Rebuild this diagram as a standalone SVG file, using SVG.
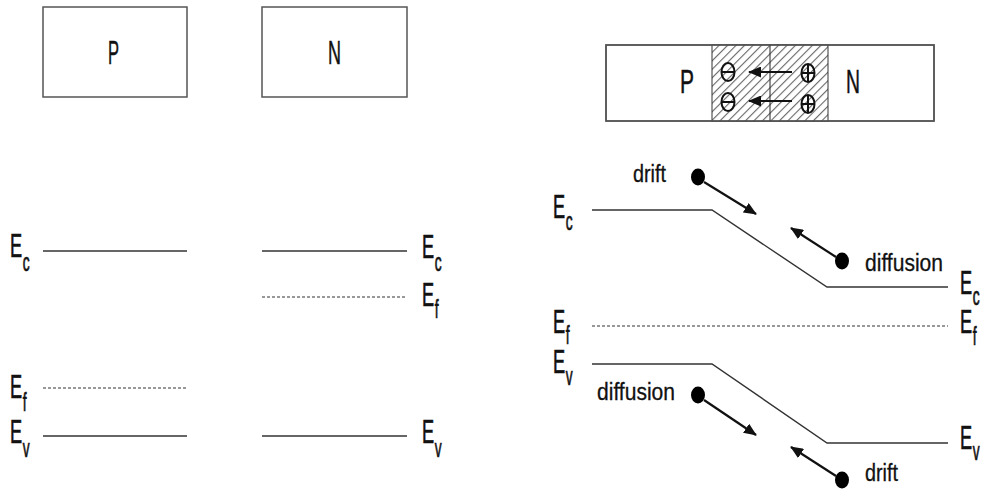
<svg xmlns="http://www.w3.org/2000/svg" width="988" height="494" viewBox="0 0 988 494">
<style>
.box{fill:#fff;stroke:#555;stroke-width:1.5}
.band{fill:none;stroke:#333;stroke-width:1.4}
.fermi{fill:none;stroke:#333;stroke-width:1;stroke-dasharray:3,2}
.lbl{font-family:"Liberation Sans",Arial,sans-serif;font-size:33px;fill:#111;stroke:#111;stroke-width:0.5}
.el{font-family:"Liberation Sans",Arial,sans-serif;font-size:33px;fill:#111;stroke:#111;stroke-width:0.7}
.el .s{font-size:25px}
.tag{font-family:"Liberation Sans",Arial,sans-serif;font-size:23px;fill:#111;stroke:#111;stroke-width:0.3}
.arr{stroke:#111;stroke-width:2.2;fill:none}
.dot{fill:#000}
.ion{fill:none;stroke:#111;stroke-width:2}
</style>
<defs>
<pattern id="hatch" width="6" height="6" patternUnits="userSpaceOnUse" patternTransform="rotate(45)">
<rect width="6" height="6" fill="#fff"/>
<line x1="0" y1="0" x2="0" y2="6" stroke="#666" stroke-width="2.2"/>
</pattern>
<marker id="ah" markerWidth="13" markerHeight="11" refX="12" refY="5.5" orient="auto" markerUnits="userSpaceOnUse">
<path d="M0,0 L13,5.5 L0,11 Z" fill="#111"/>
</marker>
</defs>
<rect width="988" height="494" fill="#fff"/>

<!-- Left: separated P and N -->
<g id="p-block">
<rect class="box" x="43" y="7" width="144" height="90"/>
<text class="lbl" x="108" y="64" textLength="11" lengthAdjust="spacingAndGlyphs">P</text>
</g>
<g id="n-block">
<rect class="box" x="262" y="7" width="145" height="90"/>
<text class="lbl" x="328" y="64" textLength="13" lengthAdjust="spacingAndGlyphs">N</text>
</g>

<g id="p-bands">
<line class="band" x1="43" y1="251" x2="187" y2="251"/>
<line class="fermi" x1="43" y1="388" x2="187" y2="388"/>
<line class="band" x1="43" y1="436" x2="187" y2="436"/>
<text class="el" transform="translate(10,257) scale(0.55,1)">E<tspan class="s" dx="1" dy="14">c</tspan></text>
<text class="el" transform="translate(10,398) scale(0.55,1)">E<tspan class="s" dx="1" dy="13">f</tspan></text>
<text class="el" transform="translate(10,443) scale(0.55,1)">E<tspan class="s" dx="1" dy="14">v</tspan></text>
</g>

<g id="n-bands">
<line class="band" x1="262" y1="251" x2="407" y2="251"/>
<line class="fermi" x1="262" y1="297" x2="407" y2="297"/>
<line class="band" x1="262" y1="436" x2="407" y2="436"/>
<text class="el" transform="translate(422,258) scale(0.55,1)">E<tspan class="s" dx="1" dy="13">c</tspan></text>
<text class="el" transform="translate(422,306) scale(0.55,1)">E<tspan class="s" dx="1" dy="12">f</tspan></text>
<text class="el" transform="translate(422,443) scale(0.55,1)">E<tspan class="s" dx="1" dy="14">v</tspan></text>
</g>

<!-- Right: PN junction -->
<g id="junction">
<rect class="box" x="606" y="45" width="328" height="76"/>
<rect x="712" y="45" width="116" height="76" fill="url(#hatch)" stroke="#333" stroke-width="1"/>
<line x1="770" y1="45" x2="770" y2="121" stroke="#222" stroke-width="1"/>
<rect x="606" y="45" width="328" height="76" fill="none" stroke="#555" stroke-width="1.5"/>
<text class="lbl" x="680" y="93" textLength="14" lengthAdjust="spacingAndGlyphs">P</text>
<text class="lbl" x="846" y="93" textLength="14" lengthAdjust="spacingAndGlyphs">N</text>
</g>

<g id="ions">
<ellipse cx="728" cy="72" rx="6.5" ry="9" fill="#fff" fill-opacity="0.5" class="ion"/>
<line class="ion" x1="722" y1="72" x2="734" y2="72"/>
<ellipse cx="728" cy="102" rx="6.5" ry="9" fill="#fff" fill-opacity="0.5" class="ion"/>
<line class="ion" x1="722" y1="102" x2="734" y2="102"/>
<ellipse cx="808" cy="73" rx="6.5" ry="9" fill="#fff" fill-opacity="0.5" class="ion"/>
<line class="ion" x1="802" y1="73" x2="814" y2="73"/>
<line class="ion" x1="808" y1="65" x2="808" y2="82"/>
<ellipse cx="808" cy="104" rx="6.5" ry="9" fill="#fff" fill-opacity="0.5" class="ion"/>
<line class="ion" x1="802" y1="104" x2="814" y2="104"/>
<line class="ion" x1="808" y1="96" x2="808" y2="113"/>
</g>

<g id="junction-bands">
<polyline class="band" points="592,210 712,210 827,287 948,287"/>
<line class="fermi" x1="592" y1="326" x2="948" y2="326"/>
<polyline class="band" points="592,364 712,364 827,443 948,443"/>
<text class="el" transform="translate(553,218) scale(0.55,1)">E<tspan class="s" dx="1" dy="12">c</tspan></text>
<text class="el" transform="translate(553,333) scale(0.55,1)">E<tspan class="s" dx="1" dy="11">f</tspan></text>
<text class="el" transform="translate(553,373) scale(0.55,1)">E<tspan class="s" dx="1" dy="12">v</tspan></text>
<text class="el" transform="translate(960,294) scale(0.55,1)">E<tspan class="s" dx="1" dy="11">c</tspan></text>
<text class="el" transform="translate(960,333) scale(0.55,1)">E<tspan class="s" dx="1" dy="12">f</tspan></text>
<text class="el" transform="translate(960,449) scale(0.55,1)">E<tspan class="s" dx="1" dy="11">v</tspan></text>
</g>

<g id="carriers">
<ellipse class="dot" cx="698" cy="177" rx="7" ry="8.5"/>
<ellipse class="dot" cx="842" cy="261" rx="7" ry="8.5"/>
<ellipse class="dot" cx="698" cy="395" rx="7" ry="8.5"/>
<ellipse class="dot" cx="842" cy="480" rx="7" ry="8.5"/>
<text class="tag" x="633" y="182" textLength="33" lengthAdjust="spacingAndGlyphs">drift</text>
<text class="tag" x="865" y="271" textLength="78" lengthAdjust="spacingAndGlyphs">diffusion</text>
<text class="tag" x="597" y="400" textLength="78" lengthAdjust="spacingAndGlyphs">diffusion</text>
<text class="tag" x="865" y="481" textLength="33" lengthAdjust="spacingAndGlyphs">drift</text>
</g>

<g id="connectors">
<line class="arr" x1="792" y1="72" x2="749" y2="72" marker-end="url(#ah)"/>
<line class="arr" x1="792" y1="101" x2="749" y2="101" marker-end="url(#ah)"/>
<line class="arr" x1="704" y1="182" x2="756" y2="214" marker-end="url(#ah)"/>
<line class="arr" x1="836" y1="257" x2="791" y2="228" marker-end="url(#ah)"/>
<line class="arr" x1="704" y1="400" x2="756" y2="435" marker-end="url(#ah)"/>
<line class="arr" x1="836" y1="476" x2="791" y2="447" marker-end="url(#ah)"/>
</g>
</svg>
